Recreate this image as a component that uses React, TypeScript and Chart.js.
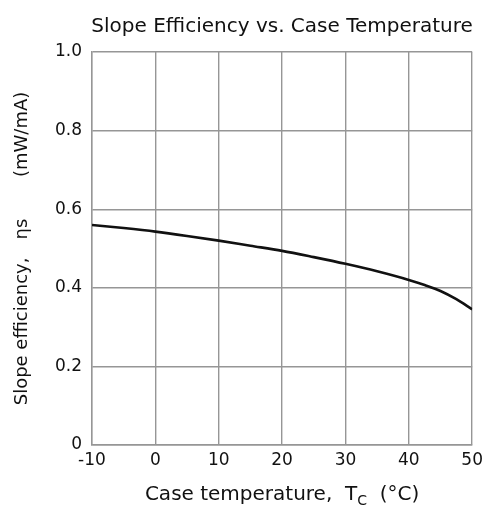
import { useEffect, useRef } from 'react';
import { Chart, type Plugin } from 'chart.js/auto';

const TEMPS = [-10, -5, 0, 5, 10, 15, 20, 25, 30, 35, 40, 42.5, 45, 47.5, 50];
const SLOPE_EFF = [0.56, 0.552, 0.543, 0.532, 0.52, 0.507, 0.494, 0.478, 0.461, 0.442, 0.42, 0.407, 0.392, 0.371, 0.345];
const X_TICKS = [-10, 0, 10, 20, 30, 40, 50];
const Y_TICKS = [0, 0.2, 0.4, 0.6, 0.8, 1.0];

const TITLE = 'Slope Efficiency vs. Case Temperature';
const Y_TITLE = 'Slope efficiency,\u2003ηs\u2003\u2003 (mW/mA)';
const X_TITLE = ['Case temperature,  T', 'C', '  (°C)'];

const FONT = "'DejaVu Sans', sans-serif";
const INK = '#111';
const GRID = '#969696';

// main title + x-axis title (needs a subscript, so drawn by hand)
const labelsPlugin: Plugin<'line'> = {
  id: 'labels',
  afterDraw(chart) {
    const { ctx, chartArea } = chart;
    const cx = (chartArea.left + chartArea.right) / 2;
    ctx.save();
    ctx.fillStyle = INK;
    ctx.textBaseline = 'alphabetic';

    ctx.font = `20px ${FONT}`;
    ctx.textAlign = 'center';
    ctx.fillText(TITLE, cx, 32);

    ctx.textAlign = 'left';
    const big = `20px ${FONT}`;
    const small = `14px ${FONT}`;
    ctx.font = big;
    const w0 = ctx.measureText(X_TITLE[0]).width;
    const w2 = ctx.measureText(X_TITLE[2]).width;
    ctx.font = small;
    const w1 = ctx.measureText(X_TITLE[1]).width;
    let x = cx - (w0 + w1 + w2) / 2;
    const base = 500;
    ctx.font = big;
    ctx.fillText(X_TITLE[0], x, base);
    x += w0;
    ctx.font = small;
    ctx.fillText(X_TITLE[1], x, base + 5);
    x += w1;
    ctx.font = big;
    ctx.fillText(X_TITLE[2], x, base);
    ctx.restore();
  },
};

export default function App() {
  const canvasRef = useRef<HTMLCanvasElement>(null);
  const chartRef = useRef<Chart | null>(null);

  useEffect(() => {
    const canvas = canvasRef.current;
    if (!canvas) return;

    chartRef.current?.destroy();
    chartRef.current = new Chart(canvas, {
      type: 'line',
      data: {
        datasets: [
          {
            data: TEMPS.map((t, i) => ({ x: t, y: SLOPE_EFF[i] })),
            borderColor: INK,
            borderWidth: 2.6,
            pointRadius: 0,
            cubicInterpolationMode: 'monotone',
            fill: false,
          },
        ],
      },
      options: {
        animation: false,
        responsive: true,
        maintainAspectRatio: false,
        layout: { padding: { top: 52, right: 14, left: 0, bottom: 0 } },
        plugins: {
          legend: { display: false },
          tooltip: { enabled: false },
          title: { display: false },
        },
        scales: {
          x: {
            type: 'linear',
            min: X_TICKS[0],
            max: X_TICKS[X_TICKS.length - 1],
            afterBuildTicks: (scale) => {
              scale.ticks = X_TICKS.map((v) => ({ value: v }));
            },
            afterFit: (scale) => {
              scale.height = 63;
            },
            ticks: {
              font: { family: FONT, size: 17 },
              color: INK,
              padding: 5,
              maxRotation: 0,
            },
            grid: { color: GRID, lineWidth: 1.4, drawTicks: false },
            border: { color: GRID, width: 1.4 },
          },
          y: {
            min: Y_TICKS[0],
            max: Y_TICKS[Y_TICKS.length - 1],
            afterBuildTicks: (scale) => {
              scale.ticks = Y_TICKS.map((v) => ({ value: v }));
            },
            afterFit: (scale) => {
              scale.width = 92;
            },
            ticks: {
              font: { family: FONT, size: 17 },
              color: INK,
              padding: 10,
              callback: (v) => (Number(v) === 0 ? '0' : Number(v).toFixed(1)),
            },
            grid: { color: GRID, lineWidth: 1.4, drawTicks: false },
            border: { color: GRID, width: 1.4 },
            title: {
              display: true,
              text: Y_TITLE,
              color: INK,
              font: { family: FONT, size: 18 },
              padding: { top: 12, bottom: 0 },
            },
          },
        },
      },
      plugins: [labelsPlugin],
    });

    return () => {
      chartRef.current?.destroy();
      chartRef.current = null;
    };
  }, []);

  return (
    <div style={{ position: 'absolute', left: 0, top: 0, width: 488, height: 508, background: '#fff' }}>
      <canvas ref={canvasRef} />
    </div>
  );
}
